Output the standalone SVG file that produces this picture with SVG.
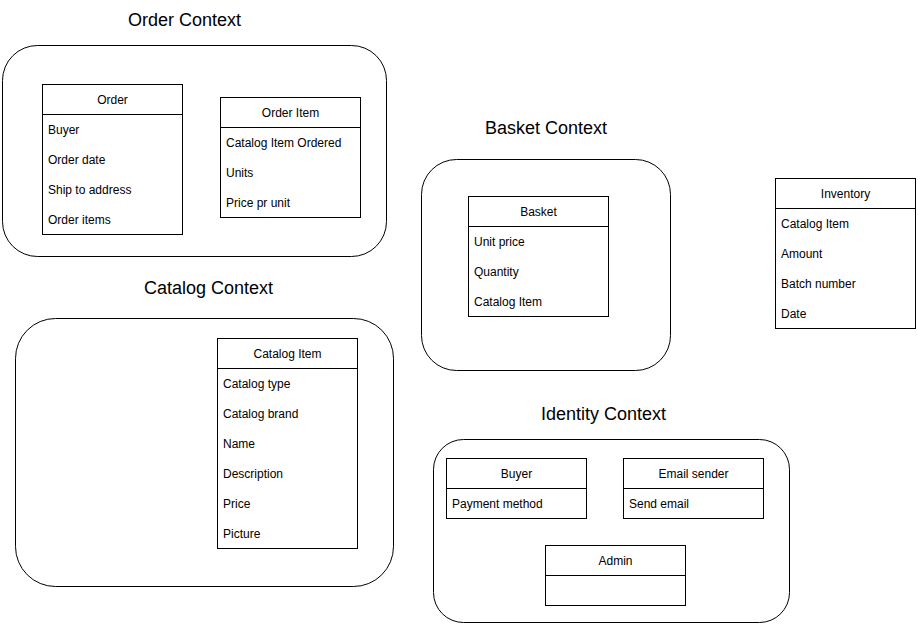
<svg xmlns="http://www.w3.org/2000/svg" width="918" height="625" viewBox="0 0 918 625">
<style>
.ctx{fill:#fff;stroke:#000;stroke-width:1}
.box{fill:#fff;stroke:#000;stroke-width:1}
.ln{stroke:#000;stroke-width:1}
text{font-family:"Liberation Sans",Arial,sans-serif;fill:#000}
.t{font-size:18px;text-anchor:middle}
.h{font-size:12px;text-anchor:middle}
.a{font-size:12px}
</style>
<rect width="918" height="625" fill="#fff"/>
<g id="order-context">
<text class="t" x="184.5" y="26">Order Context</text>
<rect class="ctx" x="2.5" y="45.5" width="384" height="211" rx="35" ry="35"/>
</g>
<g id="basket-context">
<text class="t" x="546" y="134">Basket Context</text>
<rect class="ctx" x="421.5" y="159.5" width="249" height="211" rx="35" ry="35"/>
</g>
<g id="catalog-context">
<text class="t" x="208.5" y="294">Catalog Context</text>
<rect class="ctx" x="15.5" y="318.5" width="378" height="268" rx="40" ry="40"/>
</g>
<g id="identity-context">
<text class="t" x="603.5" y="420">Identity Context</text>
<rect class="ctx" x="433.5" y="439.5" width="356" height="183" rx="30" ry="30"/>
</g>
<g id="order">
<rect class="box" x="42.5" y="84.5" width="140" height="150"/>
<line class="ln" x1="42.5" y1="114.5" x2="182.5" y2="114.5"/>
<text class="h" x="112.5" y="104">Order</text>
<text class="a" x="48" y="134">Buyer</text>
<text class="a" x="48" y="164">Order date</text>
<text class="a" x="48" y="194">Ship to address</text>
<text class="a" x="48" y="224">Order items</text>
</g>
<g id="order-item">
<rect class="box" x="220.5" y="97.5" width="140" height="120"/>
<line class="ln" x1="220.5" y1="127.5" x2="360.5" y2="127.5"/>
<text class="h" x="290.5" y="117">Order Item</text>
<text class="a" x="226" y="147">Catalog Item Ordered</text>
<text class="a" x="226" y="177">Units</text>
<text class="a" x="226" y="207">Price pr unit</text>
</g>
<g id="basket">
<rect class="box" x="468.5" y="196.5" width="140" height="120"/>
<line class="ln" x1="468.5" y1="226.5" x2="608.5" y2="226.5"/>
<text class="h" x="538.5" y="216">Basket</text>
<text class="a" x="474" y="246">Unit price</text>
<text class="a" x="474" y="276">Quantity</text>
<text class="a" x="474" y="306">Catalog Item</text>
</g>
<g id="inventory">
<rect class="box" x="775.5" y="178.5" width="140" height="150"/>
<line class="ln" x1="775.5" y1="208.5" x2="915.5" y2="208.5"/>
<text class="h" x="845.5" y="198">Inventory</text>
<text class="a" x="781" y="228">Catalog Item</text>
<text class="a" x="781" y="258">Amount</text>
<text class="a" x="781" y="288">Batch number</text>
<text class="a" x="781" y="318">Date</text>
</g>
<g id="catalog-item">
<rect class="box" x="217.5" y="338.5" width="140" height="210"/>
<line class="ln" x1="217.5" y1="368.5" x2="357.5" y2="368.5"/>
<text class="h" x="287.5" y="358">Catalog Item</text>
<text class="a" x="223" y="388">Catalog type</text>
<text class="a" x="223" y="418">Catalog brand</text>
<text class="a" x="223" y="448">Name</text>
<text class="a" x="223" y="478">Description</text>
<text class="a" x="223" y="508">Price</text>
<text class="a" x="223" y="538">Picture</text>
</g>
<g id="buyer">
<rect class="box" x="446.5" y="458.5" width="140" height="60"/>
<line class="ln" x1="446.5" y1="488.5" x2="586.5" y2="488.5"/>
<text class="h" x="516.5" y="478">Buyer</text>
<text class="a" x="452" y="508">Payment method</text>
</g>
<g id="email-sender">
<rect class="box" x="623.5" y="458.5" width="140" height="60"/>
<line class="ln" x1="623.5" y1="488.5" x2="763.5" y2="488.5"/>
<text class="h" x="693.5" y="478">Email sender</text>
<text class="a" x="629" y="508">Send email</text>
</g>
<g id="admin">
<rect class="box" x="545.5" y="545.5" width="140" height="60"/>
<line class="ln" x1="545.5" y1="575.5" x2="685.5" y2="575.5"/>
<text class="h" x="615.5" y="565">Admin</text>
</g>
<g id="connectors"></g>
</svg>
